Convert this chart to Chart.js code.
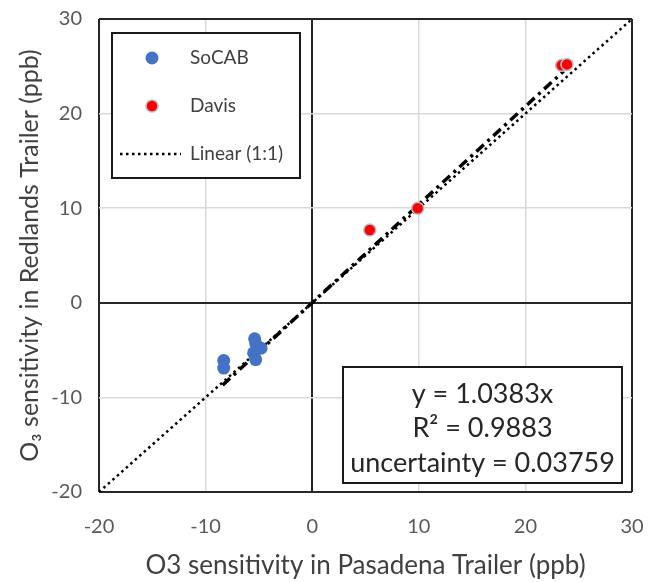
<!DOCTYPE html>
<html>
<head>
<meta charset="utf-8">
<script src="https://cdn.jsdelivr.net/npm/chart.js@4/dist/chart.umd.min.js"></script>
<style>
    html, body { margin: 0; padding: 0; background: #fff; }
    #wrap { width: 648px; height: 582px; }
</style>
</head>
<body>
<div id="wrap"><canvas id="o3Chart" width="648" height="582"></canvas></div>
<script>
// O3 sensitivity — Pasadena vs Redlands trailers

// ---- data ----
const socabX = [-8.3, -8.3, -5.4, -5.3, -4.8, -5.5, -5.3];
const socabY = [-6.1, -6.9, -3.8, -4.3, -4.8, -5.3, -6.0];

const davisX = [5.4, 9.9, 23.4, 23.9];
const davisY = [7.7, 10.0, 25.1, 25.2];

const oneToOneX = [-20, 30];
const oneToOneY = [-20, 30];

const trendX = [-8.4, 23.6];
const trendY = [-8.7, 24.5];

const axisMin = -20;
const axisMax = 30;
const tickStep = 10;

const legendLabels = ["SoCAB", "Davis", "Linear (1:1)"];
const statsLines = ["y = 1.0383x", "R\u00b2 = 0.9883", "uncertainty = 0.03759"];

const xTitle = "O3 sensitivity in Pasadena Trailer (ppb)";
const yTitle = "O\u2083 sensitivity in Redlands Trailer (ppb)";

// ---- helpers ----
const toPoints = (xs, ys) => xs.map((x, i) => ({ x: x, y: ys[i] }));

const FONT = "Lato, Carlito, Calibri, 'Open Sans', sans-serif";

const edgeOrZero = v => v === 0 || v === axisMin || v === axisMax;

function gridStyle() {
    return {
        drawTicks: false,
        color: c => edgeOrZero(c.tick.value) ? "#262626" : "#d9d9d9",
        lineWidth: c => edgeOrZero(c.tick.value) ? 2 : 1.5
    };
}

// legend + equation box, drawn on top of the plot
const boxesPlugin = {
    id: "boxes",
    afterDatasetsDraw(chart) {
        const ctx = chart.ctx;
        const ds = chart.data.datasets;

        ctx.save();

        // legend
        ctx.fillStyle = "#fff";
        ctx.fillRect(112, 33, 188, 145);
        ctx.strokeStyle = "#1a1a1a";
        ctx.lineWidth = 2;
        ctx.strokeRect(112, 33, 188, 145);

        const rowY = [58, 106, 154];

        [0, 1].forEach(i => {
            ctx.beginPath();
            ctx.arc(152, rowY[i], ds[i].pointRadius, 0, Math.PI * 2);
            ctx.fillStyle = ds[i].backgroundColor;
            ctx.fill();
            if (ds[i].pointBorderWidth) {
                ctx.lineWidth = ds[i].pointBorderWidth;
                ctx.strokeStyle = ds[i].borderColor;
                ctx.stroke();
            }
        });

        ctx.beginPath();
        ctx.setLineDash(ds[2].borderDash);
        ctx.lineWidth = ds[2].borderWidth;
        ctx.strokeStyle = ds[2].borderColor;
        ctx.moveTo(120, rowY[2]);
        ctx.lineTo(181, rowY[2]);
        ctx.stroke();
        ctx.setLineDash([]);

        ctx.font = "19px " + FONT;
        ctx.fillStyle = "#404040";
        ctx.textBaseline = "middle";
        ctx.textAlign = "left";
        legendLabels.forEach((t, i) => ctx.fillText(t, 190, rowY[i]));

        // equation box
        ctx.fillStyle = "#fff";
        ctx.fillRect(343, 367, 279, 116);
        ctx.lineWidth = 2;
        ctx.strokeStyle = "#1a1a1a";
        ctx.strokeRect(343, 367, 279, 116);

        ctx.font = "27px " + FONT;
        ctx.fillStyle = "#262626";
        ctx.textAlign = "center";
        const lineY = [394, 428, 463];
        statsLines.forEach((t, i) => ctx.fillText(t, 482.5, lineY[i]));

        ctx.restore();
    }
};

new Chart(document.getElementById("o3Chart"), {
    type: "scatter",
    data: {
        datasets: [
            {
                label: legendLabels[0],
                data: toPoints(socabX, socabY),
                backgroundColor: "#4472c4",
                borderColor: "#4472c4",
                pointRadius: 6.5,
                pointBorderWidth: 0
            },
            {
                label: legendLabels[1],
                data: toPoints(davisX, davisY),
                backgroundColor: "#ff0000",
                borderColor: "#b4bfd0",
                pointRadius: 6,
                pointBorderWidth: 1.5
            },
            {
                label: legendLabels[2],
                data: toPoints(oneToOneX, oneToOneY),
                showLine: true,
                borderColor: "#000",
                borderWidth: 2.5,
                borderDash: [2.5, 3.5],
                pointRadius: 0,
                fill: false
            },
            {
                label: "trend",
                data: toPoints(trendX, trendY),
                showLine: true,
                borderColor: "#000",
                borderWidth: 3.5,
                borderDash: [10, 5, 3, 5],
                pointRadius: 0,
                fill: false
            }
        ]
    },
    options: {
        responsive: false,
        animation: false,
        layout: { padding: { top: 19, right: 16, left: 0, bottom: 0 } },
        plugins: {
            legend: { display: false },
            tooltip: { enabled: false }
        },
        scales: {
            x: {
                type: "linear",
                min: axisMin,
                max: axisMax,
                ticks: {
                    stepSize: tickStep,
                    padding: 23,
                    color: "#595959",
                    font: { family: FONT, size: 20 }
                },
                grid: gridStyle(),
                border: { display: false },
                title: {
                    display: true,
                    text: xTitle,
                    color: "#404040",
                    font: { family: FONT, size: 26 },
                    padding: { top: 0, bottom: 1 }
                },
                afterFit: s => {
                    s.height = 90;
                    s.paddingLeft = 0;
                    s.paddingRight = 0;
                }
            },
            y: {
                type: "linear",
                min: axisMin,
                max: axisMax,
                ticks: {
                    stepSize: tickStep,
                    padding: 17,
                    color: "#595959",
                    font: { family: FONT, size: 20 }
                },
                grid: gridStyle(),
                border: { display: false },
                title: {
                    display: true,
                    text: yTitle,
                    color: "#404040",
                    font: { family: FONT, size: 25 },
                    padding: { top: 15, bottom: 0 }
                },
                afterFit: s => {
                    s.width = 99;
                    s.paddingTop = 0;
                    s.paddingBottom = 0;
                }
            }
        }
    },
    plugins: [boxesPlugin]
});
</script>
</body>
</html>
